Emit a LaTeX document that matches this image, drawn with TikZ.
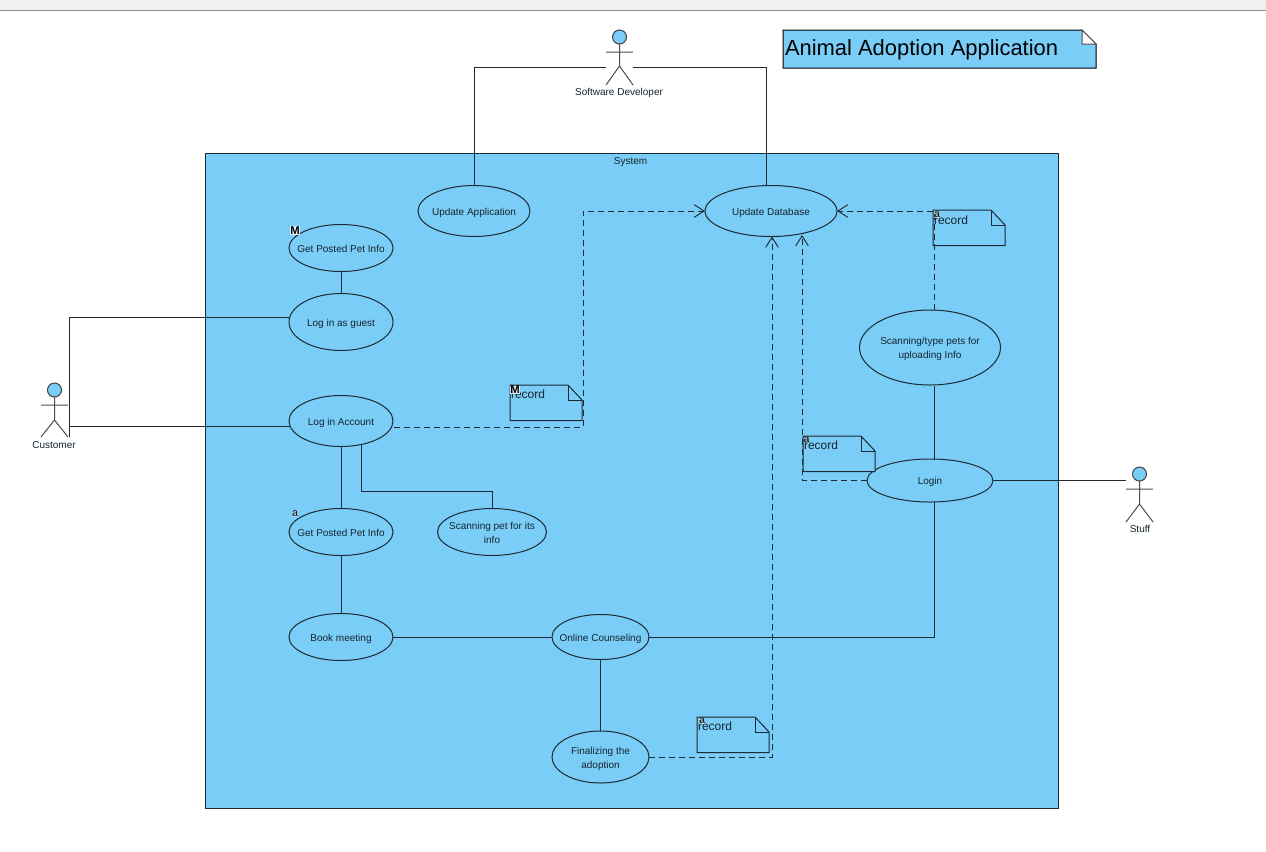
\documentclass[tikz,border=0pt]{standalone}
\usepackage{fontspec}
\setmainfont{Liberation Sans}
\usetikzlibrary{arrows.meta,shapes.geometric}
\definecolor{sysblue}{HTML}{7ACDF6}
\definecolor{linec}{HTML}{1C2A33}
\definecolor{txtc}{HTML}{15252E}
\newcommand{\uct}[1]{\makebox[0pt]{\raisebox{-0.9pt}[\height][\depth]{\begin{tabular}{@{}c@{}}#1\end{tabular}}}}
\tikzset{
  x=0.75pt,y=-0.75pt,
  every node/.style={inner sep=0pt,outer sep=0pt,text=txtc},
  usecase/.style={ellipse,draw=linec,line width=0.75pt,font=\fontsize{7.5}{10.5}\selectfont},
  conn/.style={draw=linec,line width=0.75pt},
  dep/.style={draw=linec,line width=0.75pt,dash pattern=on 4.5pt off 3pt,-{Straight Barb[length=7.5pt,width=9.5pt,line width=0.7pt]}},
  actorlabel/.style={font=\fontsize{7.5}{9}\selectfont},
  limb/.style={draw=black!70,line width=0.75pt},
  head/.style={circle,draw=black!75,fill=sysblue,line width=0.75pt,minimum size=10.5pt},
  notebody/.style={draw=linec,line width=0.75pt},
  notetext/.style={font=\fontsize{9}{10}\selectfont,anchor=west},
  mbadge/.style={font=\bfseries\fontsize{8.5}{9}\selectfont,text=black,fill=white,fill opacity=0.8,text opacity=1,inner sep=0.3pt},
  abadge/.style={font=\bfseries\fontsize{8}{9}\selectfont,text=black!85,fill=white,fill opacity=0.45,text opacity=1,inner sep=0pt},
}
\begin{document}
\begin{tikzpicture}
\useasboundingbox (0,0) rectangle (1266,851);
\fill[white] (0,0) rectangle (1266,851);
\fill[black!6] (0,0) rectangle (1266,10);
\draw[black!45,line width=0.6pt] (0,10.5) -- (1266,10.5);

% system
\draw[fill=sysblue,draw=linec,line width=0.75pt] (205,153) rectangle (1058,808);
\node[actorlabel] (systitle) at (630.5,162) {System};

% title note
\path[fill=sysblue,draw=black,line width=0.75pt] (783,30) -- (1082,30) -- (1096,44) -- (1096,68) -- (783,68) -- cycle;
\path[fill=white,draw=black!70,line width=0.75pt] (1082,30) -- (1096,44) -- (1082,44) -- cycle;
\node[anchor=west,font=\fontsize{16.45}{20}\selectfont,text=black] (maintitle) at (785,50) {Animal Adoption Application};

% use cases
\node[usecase,minimum width=84pt,minimum height=38.25pt] (updapp) at (474,211) {\uct{Update Application}};
\node[usecase,minimum width=99pt,minimum height=38.25pt] (upddb) at (771,211) {\uct{Update Database}};
\node[usecase,minimum width=78pt,minimum height=35.25pt] (getm) at (341,248) {\uct{Get Posted Pet Info}};
\node[usecase,minimum width=78pt,minimum height=42.75pt] (guest) at (341,322) {\uct{Log in as guest}};
\node[usecase,minimum width=78pt,minimum height=38.25pt] (account) at (341,421) {\uct{Log in Account}};
\node[usecase,minimum width=78pt,minimum height=35.25pt] (geta) at (341,532) {\uct{Get Posted Pet Info}};
\node[usecase,minimum width=81.75pt,minimum height=35.25pt] (scanpet) at (492,532) {\uct{Scanning pet for its\\info}};
\node[usecase,minimum width=78pt,minimum height=35.25pt] (book) at (341,637) {\uct{Book meeting}};
\node[usecase,minimum width=72.75pt,minimum height=33.75pt] (online) at (600.5,637) {\uct{Online Counseling}};
\node[usecase,minimum width=72.75pt,minimum height=39pt] (final) at (600.5,757) {\uct{Finalizing the\\adoption}};
\node[usecase,minimum width=105.75pt,minimum height=56.25pt] (scantype) at (930,347.5) {\uct{Scanning/type pets for\\uploading Info}};
\node[usecase,minimum width=94.5pt,minimum height=32.25pt] (login) at (930,480.5) {\uct{Login}};

% actors
\node[head] (devh) at (619.5,37) {};
\coordinate (devarml) at (606,52); \coordinate (devarmr) at (633,52);
\coordinate (devhip) at (619.5,66); \coordinate (devfl) at (606,85); \coordinate (devfr) at (633,85);
\draw[limb] (devh) -- (devhip) -- (devfl) (devhip) -- (devfr) (devarml) -- (devarmr);
\node[actorlabel] (devl) at (619,93) {Software Developer};

\node[head] (cush) at (54.5,390) {};
\coordinate (cusarml) at (41,405); \coordinate (cusarmr) at (68,405);
\coordinate (cuship) at (54.5,420); \coordinate (cusfl) at (41,437); \coordinate (cusfr) at (68,437);
\draw[limb] (cush) -- (cuship) -- (cusfl) (cuship) -- (cusfr) (cusarml) -- (cusarmr);
\node[actorlabel] (cusl) at (54,445.5) {Customer};

\node[head] (stuh) at (1139.5,474) {};
\coordinate (stuarml) at (1126,489); \coordinate (stuarmr) at (1153,489);
\coordinate (stuhip) at (1139.5,504); \coordinate (stufl) at (1126,522); \coordinate (stufr) at (1153,522);
\draw[limb] (stuh) -- (stuhip) -- (stufl) (stuhip) -- (stufr) (stuarml) -- (stuarmr);
\node[actorlabel] (stul) at (1140,528.5) {Stuff};

% solid connectors
\coordinate (devleft) at (606,67); \coordinate (devright) at (633,67);
\coordinate (devtodb) at (766,186);
\draw[conn] (updapp.north) |- (devleft);
\draw[conn] (devright) -| (devtodb);
\draw[conn] (getm.south) -- (guest.north);
\coordinate (custop) at (69,437);
\coordinate (cusmid) at (69,426);
\coordinate (guestw) at (289.5,317);
\coordinate (accw) at (289.5,426);
\draw[conn] (custop) |- (guestw);
\draw[conn] (cusmid) -- (accw);
\draw[conn] (account.south) -- (geta.north);
\coordinate (accs2) at (361,444.5);
\coordinate (scanbend) at (492,491);
\draw[conn] (accs2) |- (scanbend) -- (scanpet.north);
\draw[conn] (geta.south) -- (book.north);
\draw[conn] (book.east) -- (online.west);
\draw[conn] (online.south) -- (final.north);
\coordinate (scants) at (934,385.5);
\coordinate (loginn) at (934,460);
\coordinate (logins) at (934,502);
\draw[conn] (scants) -- (loginn);
\draw[conn] (logins) |- (online.east);
\coordinate (stuleft) at (1126,480.5);
\draw[conn] (login.east) -- (stuleft);

% notes
\newcommand{\usenote}[2]{%
  \path[notebody,fill=sysblue] (#1,#2) -- ++(58,0) -- ++(14,15) -- ++(0,20.5) -- ++(-72,0) -- cycle;
  \path[notebody] (#1+58,#2) -- ++(0,15) -- ++(14,0);
}
\usenote{510}{385}
\usenote{933}{210}
\usenote{803}{436}
\usenote{697}{717}

% dashed dependencies
\coordinate (accdash) at (394,427);
\coordinate (accbend) at (583,427);
\coordinate (dbw) at (705,211);
\draw[dep] (accdash) -- (accbend) |- (dbw);
\coordinate (loginw) at (867,480);
\coordinate (dbs1) at (802,235);
\draw[dep] (loginw) -| (dbs1);
\coordinate (scantop) at (934,310);
\coordinate (dbe) at (837,211);
\draw[dep] (scantop) |- (dbe);
\coordinate (dbs2) at (772,236.5);
\draw[dep] (final.east) -| (dbs2);

% note texts and badges
\node[notetext] (r1) at (511,394.5) {record};
\node[mbadge] (b1) at (515,390) {M};
\node[notetext] (r2) at (934,220) {record};
\node[abadge] (b2) at (937,215) {a};
\node[notetext] (r3) at (804,445.5) {record};
\node[abadge] (b3) at (806.5,439.5) {a};
\node[notetext] (r4) at (698,726.5) {record};
\node[abadge] (b4) at (702,721) {a};
\node[mbadge] (b5) at (295,230.5) {M};
\node[font=\fontsize{8}{9}\selectfont,text=black,fill=white,fill opacity=0.35,text opacity=1] (b6) at (295,514) {a};
\end{tikzpicture}
\end{document}
